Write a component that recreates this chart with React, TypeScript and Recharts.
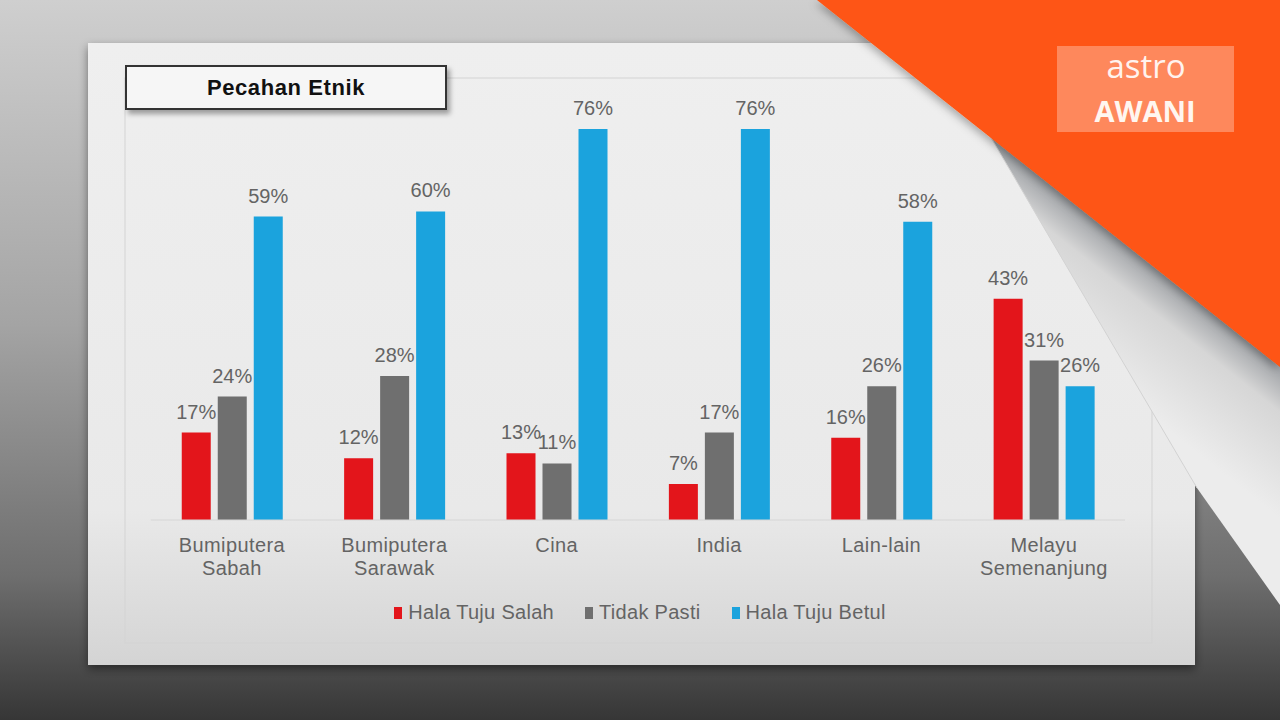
import React from 'react';
import { BarChart, Bar, XAxis, YAxis, LabelList, Legend } from 'recharts';

const categories = ['Bumiputera\nSabah', 'Bumiputera\nSarawak', 'Cina', 'India', 'Lain-lain', 'Melayu\nSemenanjung'];
const halaTujuSalah = [17, 12, 13, 7, 16, 43];
const tidakPasti = [24, 28, 11, 17, 26, 31];
const halaTujuBetul = [59, 60, 76, 76, 58, 26];

const SERIES = [
  { key: 'salah', name: 'Hala Tuju Salah', color: '#e3151b' },
  { key: 'pasti', name: 'Tidak Pasti', color: '#6f6f6f' },
  { key: 'betul', name: 'Hala Tuju Betul', color: '#1ba3dd' },
];

const FONT = "'Liberation Sans', Arial, sans-serif";
const TEXT = '#646464';

const data = categories.map((name, i) => ({
  name,
  salah: halaTujuSalah[i],
  pasti: tidakPasti[i],
  betul: halaTujuBetul[i],
}));

const CategoryTick = (props: any) => {
  const { x, y, payload } = props;
  const lines = String(payload.value).split('\n');
  return (
    <text x={x} y={y} textAnchor="middle" fill={TEXT} fontSize={20} fontFamily={FONT} letterSpacing={0.4}>
      {lines.map((l, i) => (
        <tspan key={i} x={x} dy={i === 0 ? 24 : 23}>{l}</tspan>
      ))}
    </text>
  );
};

const LegendContent = () => (
  <div style={{ display: 'flex', justifyContent: 'center', fontFamily: FONT, fontSize: 20, color: TEXT, letterSpacing: 0.3 }}>
    {SERIES.map((s, i) => (
      <div key={s.key} style={{ display: 'flex', alignItems: 'center', marginLeft: i === 0 ? 0 : 31 }}>
        <span style={{ width: 8, height: 12, background: s.color, marginRight: 6, display: 'inline-block' }} />
        <span>{s.name}</span>
      </div>
    ))}
  </div>
);

const Backdrop = () => (
  <svg width={1280} height={720} style={{ position: 'absolute', left: 0, top: 0 }}>
    <defs>
      <linearGradient id="bg" x1="0" y1="0" x2="0" y2="1">
        <stop offset="0" stopColor="#cfcfcf" />
        <stop offset="0.45" stopColor="#a4a4a4" />
        <stop offset="0.8" stopColor="#6e6e6e" />
        <stop offset="1" stopColor="#363636" />
      </linearGradient>
      <linearGradient id="panel" x1="0" y1="0" x2="0" y2="1">
        <stop offset="0" stopColor="#efefef" />
        <stop offset="0.75" stopColor="#e9e9e9" />
        <stop offset="1" stopColor="#d4d4d4" />
      </linearGradient>
      <filter id="shadow" x="-5%" y="-5%" width="110%" height="115%">
        <feDropShadow dx="0" dy="4" stdDeviation="5" floodColor="#000" floodOpacity="0.45" />
      </filter>
    </defs>
    <rect x={0} y={0} width={1280} height={720} fill="url(#bg)" />
    <rect x={88} y={43} width={1107} height={622} fill="url(#panel)" filter="url(#shadow)" />
    <rect x={125} y={78} width={1027} height={565} fill="none" stroke="#d3d3d3" strokeWidth={1} />
  </svg>
);

const Corner = () => (
  <svg width={1280} height={720} style={{ position: 'absolute', left: 0, top: 0, pointerEvents: 'none' }}>
    <defs>
      <linearGradient id="curl" gradientUnits="userSpaceOnUse" x1="1135" y1="252" x2="1061" y2="346">
        <stop offset="0" stopColor="#9ea1a5" />
        <stop offset="0.3" stopColor="#d6d6d6" />
        <stop offset="1" stopColor="#ececec" />
      </linearGradient>
      <filter id="oshadow" x="-10%" y="-10%" width="120%" height="130%">
        <feDropShadow dx="-2" dy="3" stdDeviation="4" floodColor="#000" floodOpacity="0.3" />
      </filter>
    </defs>
    <polygon points="990,136 1280,367 1280,605 1197,488" fill="url(#curl)" />
    <line x1={990} y1={136} x2={1197} y2={488} stroke="#d2d2d2" strokeWidth={1} />
    <polygon points="817,0 1280,0 1280,367" fill="#fe5412" filter="url(#oshadow)" />
    <rect x={1057} y={46} width={177} height={86} fill="#ffffff" fillOpacity={0.3} />
    <text x={1146} y={78} textAnchor="middle" fill="#fff3ee" fontSize={33} fontFamily="'Open Sans', sans-serif">astro</text>
    <text x={1145} y={122} textAnchor="middle" fill="#fff6f0" fontSize={29} fontWeight="bold" fontFamily="'Open Sans', sans-serif">AWANI</text>
  </svg>
);

export default function App() {
  return (
    <div style={{ position: 'absolute', left: 0, top: 0, width: 1280, height: 720, overflow: 'hidden', fontFamily: FONT }}>
      <Backdrop />
      <div style={{ position: 'absolute', left: 0, top: 0 }}>
        <BarChart
          width={1280}
          height={720}
          data={data}
          margin={{ top: 108.5, right: 155, bottom: 170, left: 150.75 }}
          barSize={29}
          barGap={7}
        >
          <YAxis hide domain={[0, 80]} />
          <XAxis
            dataKey="name"
            height={30}
            axisLine={{ stroke: '#d6d6d6' }}
            tickLine={false}
            interval={0}
            tick={<CategoryTick />}
          />
          <Legend
            layout="vertical"
            verticalAlign="middle"
            align="center"
            wrapperStyle={{ top: 601, left: 0, width: 1280 }}
            content={<LegendContent />}
          />
          {SERIES.map((s) => (
            <Bar key={s.key} dataKey={s.key} name={s.name} fill={s.color} isAnimationActive={false}>
              <LabelList
                dataKey={s.key}
                position="top"
                offset={14}
                formatter={(v: any) => `${v}%`}
                fill={TEXT}
                fontSize={20}
                fontFamily={FONT}
              />
            </Bar>
          ))}
        </BarChart>
      </div>
      <div
        style={{
          position: 'absolute', left: 125, top: 65, width: 318, height: 41,
          border: '2px solid #333', background: '#f6f6f6',
          boxShadow: '3px 4px 5px rgba(0,0,0,0.35)',
          display: 'flex', alignItems: 'center', justifyContent: 'center',
          fontWeight: 'bold', fontSize: 22, letterSpacing: 0.6, color: '#111',
        }}
      >
        Pecahan Etnik
      </div>
      <Corner />
    </div>
  );
}
